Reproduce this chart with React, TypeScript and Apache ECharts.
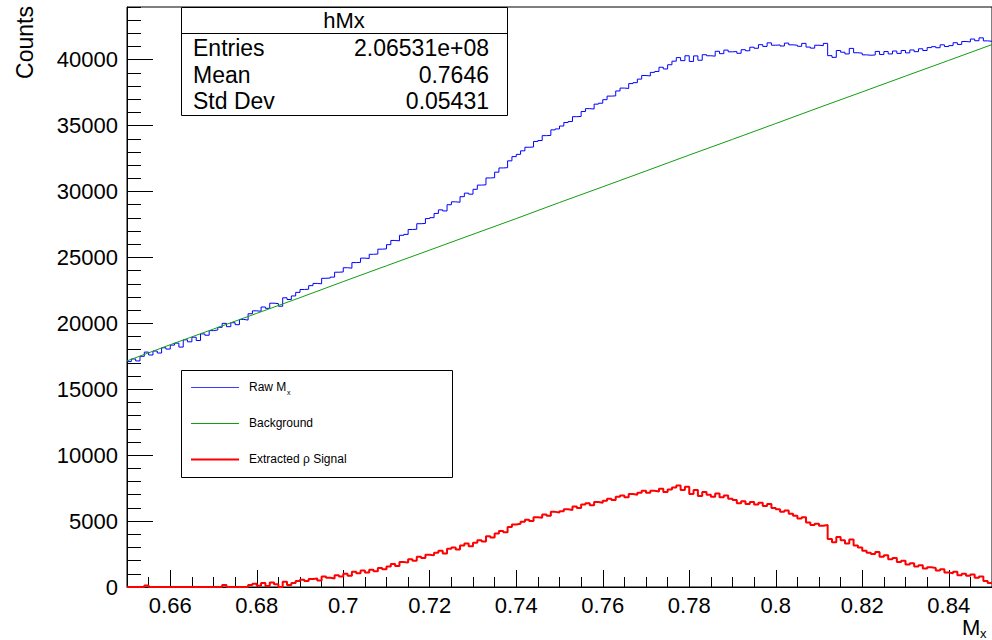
import React, { useEffect, useRef } from "react";
import * as echarts from "echarts";

// Histogram binning (bins of width 0.001 from 0.65)
const binLow = 0.65;
const binWidth = 0.001;

// Raw Mx counts per bin (blue)
const rawMx = [
  17100, 17300, 17150, 17500, 17820, 17600, 17900, 17750, 18150, 18050,
  18350, 18500, 18200, 18750, 18600, 18950, 18700, 19200, 19100, 19450,
  19500, 19700, 20000, 19750, 20050, 19900, 20300, 20250, 20730, 20950,
  20920, 21240, 21140, 21530, 21500, 21300, 21940, 21810, 22080, 22350,
  22570, 22590, 22860, 23030, 23000, 23420, 23440, 23510, 23880, 23900,
  24220, 24190, 24610, 24630, 24950, 24920, 25240, 25260, 25630, 25650,
  25970, 26290, 26260, 26680, 26750, 27120, 27140, 27560, 27580, 27950,
  28020, 28340, 28610, 28530, 29000, 29220, 29190, 29610, 29880, 29800,
  30170, 30490, 30510, 31030, 31050, 31470, 31790, 31810, 32330, 32650,
  32820, 33090, 33360, 33380, 33800, 33870, 34240, 34260, 34680, 34750,
  34970, 35240, 35310, 35680, 35700, 36070, 36290, 36260, 36630, 36700,
  36970, 37240, 37260, 37630, 37850, 37820, 38190, 38260, 38530, 38800,
  38770, 39040, 39110, 39430, 39300, 39620, 39890, 40160, 39930, 40300,
  39870, 40290, 39960, 40380, 40300, 40270, 40640, 40460, 40730, 40600,
  40620, 40490, 40760, 40680, 40950, 40870, 41140, 41010, 41280, 41100,
  41120, 41040, 41260, 41130, 41100, 41020, 41240, 40960, 40880, 41100,
  41070, 41240, 40310, 40180, 40700, 40570, 40440, 40860, 40530, 40500,
  40370, 40340, 40360, 40630, 40400, 40620, 40440, 40660, 40480, 40700,
  40520, 40740, 40610, 40830, 40700, 40920, 40990, 40910, 41130, 41000,
  41070, 41290, 41160, 41380, 41350, 41570, 41440, 41660, 41430, 41400,
];

// Extracted rho signal per bin (red)
const rhoSignal = [
  0, 0, 0, 0, 120, 0, 0, 0, 0, 0,
  0, 0, 0, 0, 0, 0, 0, 0, 0, 0,
  0, 0, 150, 0, 0, 0, 0, 0, 150, 250,
  100, 300, 80, 350, 200, 0, 400, 150, 300, 450,
  550, 450, 600, 650, 500, 800, 700, 650, 900, 800,
  1000, 850, 1150, 1050, 1250, 1100, 1300, 1200, 1450, 1350,
  1550, 1750, 1600, 1900, 1850, 2100, 2000, 2300, 2200, 2450,
  2400, 2600, 2750, 2550, 2900, 3000, 2850, 3150, 3300, 3100,
  3350, 3550, 3450, 3850, 3750, 4050, 4250, 4150, 4550, 4750,
  4800, 4950, 5100, 5000, 5300, 5250, 5500, 5400, 5700, 5650,
  5750, 5900, 5850, 6100, 6000, 6250, 6350, 6200, 6450, 6400,
  6550, 6700, 6600, 6850, 6950, 6800, 7050, 7000, 7150, 7300,
  7150, 7300, 7250, 7450, 7200, 7400, 7550, 7700, 7350, 7600,
  7050, 7350, 6900, 7200, 7000, 6850, 7100, 6800, 6950, 6700,
  6600, 6350, 6500, 6300, 6450, 6250, 6400, 6150, 6300, 6000,
  5900, 5700, 5800, 5550, 5400, 5200, 5300, 4900, 4700, 4800,
  4650, 4700, 3650, 3400, 3800, 3550, 3300, 3600, 3150, 3000,
  2750, 2600, 2500, 2650, 2300, 2400, 2100, 2200, 1900, 2000,
  1700, 1800, 1550, 1650, 1400, 1500, 1450, 1250, 1350, 1100,
  1050, 1150, 900, 1000, 850, 950, 700, 800, 450, 300,
];

// Background (green) read at Mx points
const bgMx = [0.65, 0.66, 0.67, 0.68, 0.69, 0.7, 0.71, 0.72, 0.73, 0.74, 0.75, 0.76, 0.77, 0.78, 0.79, 0.8, 0.81, 0.82, 0.83, 0.84, 0.85];
const bgCounts = [17150, 18380, 19570, 20760, 21950, 23170, 24370, 25560, 26760, 27950, 29170, 30360, 31560, 32770, 33960, 35160, 36370, 37560, 38760, 39950, 41150];

// Tick labels
const xTickValues = [0.66, 0.68, 0.7, 0.72, 0.74, 0.76, 0.78, 0.8, 0.82, 0.84];
const yTickValues = [0, 5000, 10000, 15000, 20000, 25000, 30000, 35000, 40000];

// Stats box
const statsTitle = "hMx";
const statsRows: [string, string][] = [
  ["Entries", "2.06531e+08"],
  ["Mean", "0.7646"],
  ["Std Dev", "0.05431"],
];

const FONT = "'Liberation Sans', Arial, Helvetica, sans-serif";
const GREEN = "#109e10";
const BLUE = "#0000ff";

function histData(values: number[]) {
  const pts: [number, number][] = values.map((v, i) => [binLow + i * binWidth, v]);
  pts.push([binLow + values.length * binWidth, values[values.length - 1]]);
  return pts;
}

export default function App() {
  const ref = useRef<HTMLDivElement>(null);
  useEffect(() => {
    const chart = echarts.init(ref.current!, null, { renderer: "svg" });
    const L = 127, T = 7, W = 869, H = 580;
    const sx = 181, sy = 7, sw = 326, sh = 108;
    const lx = 181.5, ly = 370.5, lw = 271, lh = 107;
    const text = (t: string, x: number, y: number, size: number, align = "left", extra: any = {}) => ({
      type: "text",
      x, y, silent: true,
      style: { text: t, fontSize: size, fontFamily: FONT, fill: "#000", align, verticalAlign: "middle", ...extra },
    });
    const option: any = {
      animation: false,
      backgroundColor: "#fff",
      grid: { left: L, top: T, width: W, height: H, show: true, borderColor: "#000", borderWidth: 1, backgroundColor: "transparent" },
      xAxis: [
        {
          type: "value", min: 0.65, max: 0.85, position: "bottom",
          axisLine: { show: true, onZero: false, lineStyle: { color: "#000", width: 1 } },
          axisTick: { show: true, inside: true, length: 17, customValues: xTickValues, lineStyle: { color: "#000", width: 1 } },
          axisLabel: {
            customValues: xTickValues, fontSize: 22, fontFamily: FONT, color: "#000", margin: 7,
            formatter: (v: number) => String(Math.round(v * 1000) / 1000),
          },
          splitLine: { show: false },
        },
        {
          type: "value", min: 0.65, max: 0.85, interval: 0.005, position: "bottom",
          axisLine: { show: false },
          axisTick: { show: true, inside: true, length: 10, lineStyle: { color: "#000", width: 1 } },
          axisLabel: { show: false },
          splitLine: { show: false },
        },
      ],
      yAxis: [
        {
          type: "value", min: 0, max: 44000, position: "left",
          axisLine: { show: true, onZero: false, lineStyle: { color: "#000", width: 1 } },
          axisTick: { show: true, inside: true, length: 26, customValues: yTickValues, lineStyle: { color: "#000", width: 1 } },
          axisLabel: {
            customValues: yTickValues, fontSize: 22, fontFamily: FONT, color: "#000", margin: 9,
            formatter: (v: number) => String(Math.round(v)),
          },
          splitLine: { show: false },
        },
        {
          type: "value", min: 0, max: 44000, interval: 1000, position: "left",
          axisLine: { show: false },
          axisTick: { show: true, inside: true, length: 14, lineStyle: { color: "#000", width: 1 } },
          axisLabel: { show: false },
          splitLine: { show: false },
        },
      ],
      series: [
        {
          name: "Raw Mx", type: "line", xAxisIndex: 0, yAxisIndex: 0, step: "end",
          data: histData(rawMx), symbol: "none", showSymbol: false,
          lineStyle: { color: BLUE, width: 1 }, z: 3, clip: true,
        },
        {
          name: "Background", type: "line", xAxisIndex: 0, yAxisIndex: 0,
          data: bgMx.map((x, i) => [x, bgCounts[i]]), symbol: "none", showSymbol: false,
          lineStyle: { color: GREEN, width: 1 }, z: 4, clip: true,
        },
        {
          name: "Extracted rho Signal", type: "line", xAxisIndex: 0, yAxisIndex: 0, step: "end",
          data: histData(rhoSignal), symbol: "none", showSymbol: false,
          lineStyle: { color: "#ff0000", width: 2 }, z: 5, clip: true,
        },
      ],
      graphic: [
        // stats box
        { type: "rect", shape: { x: sx + 0.5, y: sy + 0.5, width: sw, height: sh }, style: { fill: "#fff", stroke: "#000", lineWidth: 1 }, z: 100 },
        { type: "line", shape: { x1: sx + 0.5, y1: 33.5, x2: sx + sw + 0.5, y2: 33.5 }, style: { stroke: "#000", lineWidth: 1 }, z: 101 },
        { ...text(statsTitle, sx + sw / 2, 20, 22, "center"), z: 102 },
        ...statsRows.flatMap(([k, v], i) => [
          { ...text(k, 193, 48 + i * 26.5, 23, "left"), z: 102 },
          { ...text(v, 489, 48 + i * 26.5, 23, "right"), z: 102 },
        ]),
        // legend box
        { type: "rect", shape: { x: lx, y: ly, width: lw, height: lh }, style: { fill: "#fff", stroke: "#000", lineWidth: 1 }, z: 100 },
        { type: "rect", shape: { x: 191, y: 387, width: 48, height: 1 }, style: { fill: "#3b3bff" }, z: 101 },
        { type: "rect", shape: { x: 191, y: 423, width: 48, height: 1 }, style: { fill: GREEN }, z: 101 },
        { type: "line", shape: { x1: 191, y1: 459.5, x2: 239, y2: 459.5 }, style: { stroke: "#ff0000", lineWidth: 2 }, z: 101 },
        { ...text("Raw M", 249, 387, 12, "left"), z: 102 },
        { ...text("x", 287, 392, 7, "left"), z: 102 },
        { ...text("Background", 249, 423, 12, "left"), z: 102 },
        { ...text("Extracted ρ Signal", 249, 459, 12, "left"), z: 102 },
        // axis titles
        {
          type: "text", x: 13, y: 6, rotation: Math.PI / 2, silent: true,
          style: { text: "Counts", fontSize: 23, fontFamily: FONT, fill: "#000", align: "right", verticalAlign: "top" },
        },
        { ...text("M", 962, 627, 22, "left") },
        { ...text("x", 980, 633, 13, "left") },
      ],
    };
    chart.setOption(option);
    return () => chart.dispose();
  }, []);
  return (
    <div
      ref={ref}
      style={{ position: "fixed", left: 0, top: 0, width: 992, height: 640, background: "#fff" }}
    />
  );
}
